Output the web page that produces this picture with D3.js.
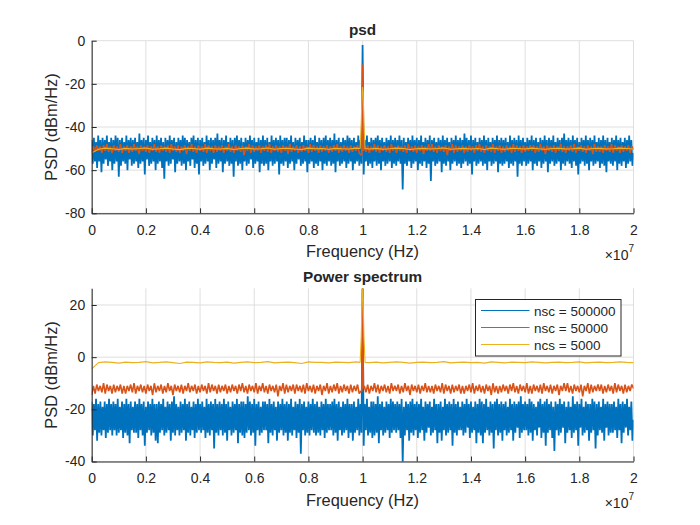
<!DOCTYPE html>
<html><head><meta charset="utf-8">
<script src="https://cdn.jsdelivr.net/npm/d3@7"></script>
<style>
body{margin:0;background:#fff;}
text{font-family:"Liberation Sans",Arial,Helvetica,sans-serif;fill:#262626;}
</style>
</head><body>
<svg id="chart" width="700" height="525"></svg>
<script>
// ---------- data ----------
const freqMaxHz = 2e7;
const xTickValues = [0, 2e6, 4e6, 6e6, 8e6, 1e7, 1.2e7, 1.4e7, 1.6e7, 1.8e7, 2e7];
const xTickLabels = ["0", "0.2", "0.4", "0.6", "0.8", "1", "1.2", "1.4", "1.6", "1.8", "2"];
const psdYTicks = [0, -20, -40, -60, -80];
const psYTicks = [20, 0, -20, -40];
const psdYLimits = [-80, 0];
const psYLimits = [-40, 26.4];
const legendLabels = ["nsc = 500000", "nsc = 50000", "ncs = 5000"];
const seriesColors = ["#0072BD", "#D95319", "#EDB120"];
const titles = ["psd", "Power spectrum"];

// PSD (top) – nsc = 500000
const psdBlue = [
-46,-57,-45,-56,-47,-59,-44,-56,-46,-61,-45,-57,-46,-55,-44,-58,-47,-56,-45,-60,
-46,-57,-44,-56,-45,-63,-46,-58,-45,-56,-47,-57,-44,-60,-46,-55,-45,-58,-46,-57,
-45,-56,-47,-59,-43,-57,-46,-56,-45,-62,-46,-55,-44,-58,-47,-57,-45,-56,-46,-60,
-44,-57,-46,-56,-45,-59,-47,-64,-45,-56,-46,-58,-44,-57,-46,-55,-45,-61,-47,-57,
-45,-56,-46,-58,-44,-57,-45,-60,-46,-56,-47,-58,-45,-55,-44,-59,-46,-57,-45,-62,
-46,-56,-45,-58,-47,-57,-44,-56,-46,-60,-45,-57,-46,-55,-45,-59,-43,-57,-46,-56,
-45,-61,-46,-57,-44,-56,-47,-58,-45,-57,-46,-63,-45,-56,-44,-58,-46,-57,-45,-60,
-47,-56,-45,-58,-46,-57,-44,-55,-46,-59,-45,-57,-47,-56,-45,-61,-46,-57,-44,-58,
-46,-57,-45,-60,-47,-56,-44,-58,-46,-57,-45,-56,-46,-62,-44,-57,-46,-58,-45,-56,
-45,-59,-46,-57,-44,-56,-47,-60,-45,-57,-46,-55,-45,-58,-47,-57,-44,-56,-46,-61,
-46,-57,-45,-56,-46,-59,-44,-57,-47,-58,-45,-56,-46,-60,-45,-57,-44,-58,-46,-56,
-45,-58,-46,-57,-43,-61,-46,-56,-45,-58,-47,-57,-45,-56,-46,-59,-44,-57,-45,-56,
-46,-60,-45,-57,-47,-56,-44,-58,-46,-57,-45,-62,-46,-56,-44,-58,-47,-57,-45,-59,
-46,-56,-45,-58,-44,-57,-46,-60,-45,-56,-47,-58,-45,-57,-46,-56,-44,-59,-46,-57,
-45,-58,-46,-56,-44,-57,-46,-69,-45,-57,-47,-58,-45,-56,-46,-59,-44,-57,-46,-56,
-45,-60,-46,-57,-44,-58,-47,-56,-45,-59,-46,-57,-44,-65,-46,-56,-45,-58,-47,-57,
-45,-56,-46,-61,-44,-57,-46,-58,-45,-56,-47,-60,-45,-57,-46,-56,-44,-58,-46,-57,
-45,-59,-46,-57,-43,-56,-45,-58,-46,-57,-44,-62,-46,-56,-45,-58,-47,-57,-45,-56,
-46,-58,-44,-57,-46,-60,-45,-56,-47,-58,-45,-57,-46,-56,-44,-61,-46,-57,-45,-58,
-46,-57,-45,-56,-47,-59,-44,-57,-46,-58,-45,-56,-46,-63,-44,-57,-46,-58,-45,-56,
-47,-58,-45,-57,-46,-56,-44,-60,-46,-57,-45,-58,-47,-56,-45,-59,-46,-57,-44,-56,
-46,-61,-45,-57,-46,-56,-44,-58,-47,-57,-45,-56,-46,-60,-45,-57,-43,-58,-46,-56,
-45,-57,-46,-59,-44,-56,-46,-58,-45,-62,-47,-57,-45,-56,-46,-58,-44,-57,-46,-60,
-45,-56,-46,-58,-44,-57,-47,-56,-45,-59,-46,-57,-44,-58,-46,-61,-45,-56,-47,-57,
-45,-58,-46,-56,-44,-60,-46,-57,-45,-58,-47,-56,-45,-59,-46,-57,-44,-56,-46,-58,
-52];
const psdBluePeakFreq = [1e7];
const psdBluePeak = [-2];

// PSD (top) – nsc = 50000
const psdOrange = [
-52,-49,-51.5,-48.5,-51,-49,-52,-48.5,-51,-48,-51.5,-49,-52,-48.5,-51,-49,-51.5,-48,-52,-49,
-51,-48.5,-52,-49,-51.5,-48,-51,-49,-52.5,-48.5,-51,-49,-51.5,-48.5,-52,-49,-51,-48,-51.5,-49,
-52,-48.5,-51,-49,-51.5,-48.5,-52,-48,-51,-49,-51.5,-48.5,-52,-49,-51,-48.5,-52.5,-49,-51,-48,
-51.5,-49,-52,-48.5,-51,-49,-51.5,-48,-52,-48.5,-51,-49,-52,-48.5,-51.5,-49,-51,-48.5,-52,-49,
-51,-48,-51.5,-49,-52,-48.5,-51,-49,-51.5,-48.5,-53,-49,-51,-48,-52,-48.5,-51.5,-49,-51,-48.5,
-52,-49,-51,-48.5,-51.5,-48,-52,-49,-51,-48.5,-51.5,-49,-52,-48.5,-51,-49,-52.5,-48,-51.5,-49,
-51,-48.5,-52,-49,-51.5,-48.5,-51,-49,-52,-48,-51.5,-48.5,-51,-49,-52,-48.5,-51.5,-49,-51,-48.5,
-52,-49,-51.5,-48.5,-51,-48,-52,-49,-51.5,-48.5,-51,-49,-52,-48.5,-51.5,-49,-51,-48.5,-52,-53,
-50,-49,-51.5,-48.5,-52,-49,-51,-48,-51.5,-48.5,-52,-49,-51,-48.5,-51.5,-49,-52,-48,-51,-49,
-52,-48.5,-51,-49,-51.5,-48.5,-52,-48,-51,-49,-51.5,-48.5,-52,-49,-51,-48.5,-52.5,-49,-51,-48,
-51,-48,-51.5,-49,-52,-48.5,-51,-49,-51.5,-48.5,-53,-49,-51,-48,-52,-48.5,-51.5,-49,-51,-48.5,
-52,-49,-51.5,-48.5,-51,-49,-52,-48.5,-51,-48,-51.5,-49,-52,-48.5,-51,-49,-51.5,-48,-52,-49,
-51,-48.5,-52,-49,-51.5,-48.5,-51,-49,-52,-48,-51.5,-48.5,-51,-49,-52,-48.5,-51.5,-49,-51,-48.5,
-51,-48.5,-52,-49,-51.5,-48,-51,-49,-52.5,-48.5,-51,-49,-51.5,-48.5,-52,-49,-51,-48,-51.5,-49,
-52,-49,-51,-48.5,-51.5,-48,-52,-49,-51,-48.5,-51.5,-49,-52,-48.5,-51,-49,-52.5,-48,-51.5,-49,
-51.5,-49,-52,-48.5,-51,-49,-51.5,-48,-52,-48.5,-51,-49,-52,-48.5,-51.5,-49,-51,-48.5,-52,-49,
-50.5];
const psdOrangePeakFreq = [9.97e6, 1e7, 1.003e7];
const psdOrangePeak = [-53, -11, -51];

// PSD (top) – ncs = 5000
const psdYellow = [
-52,-50.3,-49.8,-50.1,-50.4,-49.9,-50.2,-50,-49.7,-50.3,-50.1,-49.8,-50.2,-50.5,-49.9,-50,-50.3,-49.8,-50.1,-50.2,
-49.9,-50.4,-50,-49.8,-50.2,-50.1,-49.7,-50.3,-50,-49.9,-50.2,-50.4,-49.8,-50.1,-50,-50.3,-49.9,-50.1,-50.2,-49.8,
-50,-50.2,-49.9,-50.3,-50.1,-49.8,-50,-50.4,-50.1,-49.9,-50.2,-50,-49.7,-50.3,-50.1,-49.9,-50.2,-50,-50.4,-49.8,
-50.1,-50.3,-49.9,-50,-50.2,-49.8,-50.1,-50.3,-50,-49.9,-50.2,-50.1,-49.8,-50.3,-50,-49.9,-50.2,-50.1,-49.8,-50,
-50.2];
const psdYellowPeakFreq = [9.91e6, 9.95e6, 9.98e6, 1e7, 1.002e7, 1.005e7, 1.009e7];
const psdYellowPeak = [-50, -38, -24, -21.5, -24, -38, -50];

// Power spectrum (bottom) – nsc = 500000
const psBlue = [
-17,-30,-18,-28,-16,-32,-18,-29,-17,-30,-19,-28,-17,-31,-18,-29,-16,-28,-18,-30,
-17,-28,-18,-30,-16,-29,-19,-28,-17,-31,-18,-29,-16,-30,-18,-33,-17,-28,-19,-29,
-17,-29,-18,-31,-16,-28,-18,-30,-17,-34,-19,-29,-17,-28,-18,-30,-16,-29,-18,-32,
-18,-33,-17,-29,-18,-28,-16,-30,-19,-29,-17,-28,-18,-32,-17,-29,-15,-30,-18,-28,
-19,-30,-17,-29,-18,-28,-16,-32,-18,-29,-17,-30,-19,-28,-17,-31,-18,-29,-16,-28,
-18,-29,-17,-28,-19,-31,-16,-29,-18,-30,-17,-28,-18,-35,-16,-29,-18,-30,-17,-28,
-18,-30,-16,-29,-18,-32,-17,-28,-19,-30,-17,-29,-18,-28,-16,-33,-18,-29,-17,-30,
-17,-31,-18,-29,-15,-28,-17,-30,-18,-29,-16,-34,-18,-28,-17,-30,-19,-29,-17,-28,
-17,-28,-18,-33,-16,-29,-18,-30,-17,-28,-19,-32,-17,-29,-18,-28,-16,-30,-18,-29,
-17,-32,-18,-29,-16,-30,-19,-28,-17,-31,-18,-29,-16,-37,-18,-28,-17,-30,-19,-29,
-17,-30,-18,-28,-16,-29,-18,-30,-17,-29,-19,-30,-17,-28,-18,-31,-16,-29,-18,-28,
-18,-28,-17,-30,-16,-29,-18,-32,-17,-28,-19,-30,-17,-29,-18,-28,-16,-31,-18,-29,
-18,-32,-17,-29,-19,-28,-16,-30,-18,-29,-17,-34,-18,-28,-16,-30,-19,-29,-17,-31,
-17,-30,-18,-29,-15,-33,-18,-28,-17,-30,-19,-29,-17,-28,-18,-31,-16,-29,-17,-28,
-18,-29,-17,-28,-18,-31,-16,-40.6,-19,-30,-17,-28,-18,-32,-17,-29,-16,-30,-18,-28,
-17,-31,-18,-29,-16,-28,-19,-32,-17,-29,-18,-27,-17,-30,-19,-29,-16,-28,-18,-33,
-18,-29,-17,-32,-19,-28,-16,-30,-18,-29,-17,-28,-18,-34,-16,-29,-18,-30,-17,-28,
-19,-28,-17,-30,-18,-29,-16,-27,-18,-31,-17,-29,-19,-28,-17,-33,-18,-29,-16,-30,
-17,-33,-18,-29,-16,-28,-19,-30,-17,-29,-18,-35,-17,-28,-16,-30,-18,-29,-17,-32,
-18,-28,-17,-30,-19,-29,-16,-28,-18,-32,-17,-29,-18,-27,-17,-31,-15,-29,-18,-28,
-17,-28,-18,-30,-16,-29,-17,-32,-18,-28,-19,-30,-17,-27,-16,-31,-18,-29,-17,-34,
-16,-29,-18,-28,-17,-31,-19,-36,-17,-28,-18,-30,-16,-29,-18,-27,-17,-33,-19,-29,
-17,-28,-19,-31,-15,-29,-18,-28,-17,-34,-18,-27,-16,-30,-19,-29,-17,-28,-18,-32,
-18,-29,-16,-28,-17,-35,-18,-30,-17,-28,-19,-29,-16,-32,-18,-27,-17,-30,-18,-29,
-18,-29,-17,-28,-19,-31,-16,-28,-18,-33,-17,-29,-18,-27,-16,-30,-19,-28,-17,-32,
-24];
const psBluePeakFreq = [1e7];
const psBluePeak = [26.4];

// Power spectrum (bottom) – nsc = 50000
const psOrange = [
-14.5,-11,-14,-10.5,-13,-11,-13.5,-10,-14,-10.5,-13,-11,-14,-10.5,-13.5,-11,-13,-10.5,-14,-11,
-14,-11,-13,-10.5,-13.5,-10,-14,-11,-13,-10.5,-13.5,-11,-14,-10.5,-13,-11,-14.5,-10,-13.5,-11,
-13,-10.5,-14,-11,-13.5,-10,-13,-11,-14.5,-10.5,-13,-11,-13.5,-10.5,-14,-11,-13,-10,-13.5,-11,
-13,-10.5,-14,-11,-13.5,-10.5,-13,-11,-14,-10,-13.5,-10.5,-13,-11,-14,-10.5,-13.5,-11,-13,-10.5,
-14,-11,-13.5,-10.5,-13,-11,-14,-10.5,-13,-10,-13.5,-11,-14,-10.5,-13,-11,-13.5,-10,-14,-11,
-13,-10,-13.5,-11,-14,-10.5,-13,-11,-13.5,-10.5,-15,-11,-13,-10,-14,-10.5,-13.5,-11,-13,-10.5,
-14,-10.5,-13,-11,-13.5,-10.5,-14,-10,-13,-11,-13.5,-10.5,-14,-11,-13,-10.5,-14.5,-11,-13,-10,
-14,-11,-13.5,-10.5,-13,-10,-14,-11,-13.5,-10.5,-13,-11,-14,-10.5,-13.5,-11,-13,-10.5,-14,-13,
-12,-11,-13.5,-10.5,-14,-11,-13,-10,-13.5,-10.5,-14,-11,-13,-10.5,-13.5,-11,-14,-10,-13,-11,
-13,-10.5,-14,-11,-13.5,-10,-13,-11,-14.5,-10.5,-13,-11,-13.5,-10.5,-14,-11,-13,-10,-13.5,-11,
-13.5,-11,-14,-10.5,-13,-11,-13.5,-10,-14,-10.5,-13,-11,-14,-10.5,-13.5,-11,-13,-10.5,-14,-11,
-14,-11,-13,-10.5,-13.5,-10,-14,-11,-13,-10.5,-13.5,-11,-14,-10.5,-13,-11,-14.5,-10,-13.5,-11,
-14,-11,-13.5,-10.5,-13,-11,-14,-10.5,-13,-10,-13.5,-11,-14,-10.5,-13,-11,-13.5,-10,-14,-11,
-14,-10.5,-13,-11,-13.5,-10.5,-14,-10,-13,-11,-13.5,-10.5,-14,-11,-13,-10.5,-14.5,-11,-13,-10,
-13,-10,-13.5,-11,-14,-10.5,-13,-11,-13.5,-10.5,-15,-11,-13,-10,-14,-10.5,-13.5,-11,-13,-10.5,
-13,-10.5,-14,-11,-13.5,-10.5,-13,-11,-14,-10,-13.5,-10.5,-13,-11,-14,-10.5,-13.5,-11,-13,-10.5,
-12];
const psOrangePeakFreq = [9.97e6, 1e7, 1.003e7];
const psOrangePeak = [-13, 26.3, -12];

// Power spectrum (bottom) – ncs = 5000
const psYellow = [
-4.5,-2.1,-1.8,-2,-2.3,-1.9,-2.1,-2,-1.7,-2.2,-2,-1.8,-2.1,-2.4,-1.9,-2,-2.2,-1.8,-2,-2.1,
-1.9,-2.3,-2,-1.8,-2.1,-2,-1.7,-2.2,-2,-1.9,-2.1,-2.4,-1.8,-2,-2,-2.2,-1.9,-2,-2.1,-1.8,
-2,-2.1,-1.9,-2.2,-2,-1.8,-2,-2.3,-2,-1.9,-2.1,-2,-1.7,-2.2,-2,-1.9,-2.1,-2,-2.3,-1.8,
-2,-2.2,-1.9,-2,-2.1,-1.8,-2,-2.2,-2,-1.9,-2.1,-2,-1.8,-2.2,-2,-1.9,-2.1,-2,-1.8,-2,
-2.1];
const psYellowPeakFreq = [9.91e6, 9.95e6, 9.98e6, 1e7, 1.002e7, 1.005e7, 1.009e7];
const psYellowPeak = [-2, 8, 22, 26.4, 22, 8, -2];

// ---------- helpers ----------
function buildSeries(noise, peakFreq, peakVals) {
  const step = freqMaxHz / (noise.length - 1);
  const lo = d3.min(peakFreq) - step * 0.5, hi = d3.max(peakFreq) + step * 0.5;
  const pts = noise.map((v, i) => [i * step, v]).filter(p => p[0] < lo || p[0] > hi);
  peakFreq.forEach((f, i) => pts.push([f, peakVals[i]]));
  pts.sort((a, b) => a[0] - b[0]);
  return pts;
}

const svg = d3.select("#chart");
svg.append("rect").attr("width", 700).attr("height", 525).attr("fill", "#fff");

const panels = [
  { box: { x0: 91.7, x1: 633.5, y0: 40.7, y1: 213.3 }, ylim: psdYLimits, yticks: psdYTicks, title: titles[0],
    series: [buildSeries(psdBlue, psdBluePeakFreq, psdBluePeak),
             buildSeries(psdOrange, psdOrangePeakFreq, psdOrangePeak),
             buildSeries(psdYellow, psdYellowPeakFreq, psdYellowPeak)] },
  { box: { x0: 91.7, x1: 633.5, y0: 288.3, y1: 461.5 }, ylim: psYLimits, yticks: psYTicks, title: titles[1],
    series: [buildSeries(psBlue, psBluePeakFreq, psBluePeak),
             buildSeries(psOrange, psOrangePeakFreq, psOrangePeak),
             buildSeries(psYellow, psYellowPeakFreq, psYellowPeak)], legend: true }
];

const strokeW = [1.8, 1.6, 1.1];

panels.forEach((p, pi) => {
  const b = p.box;
  const x = d3.scaleLinear().domain([0, freqMaxHz]).range([b.x0, b.x1]);
  const y = d3.scaleLinear().domain(p.ylim).range([b.y1, b.y0]);
  const g = svg.append("g");

  // grid
  g.append("g").selectAll("line").data(xTickValues).join("line")
    .attr("x1", d => x(d)).attr("x2", d => x(d)).attr("y1", b.y0).attr("y2", b.y1)
    .attr("stroke", "#dfdfdf").attr("stroke-width", 1);
  g.append("g").selectAll("line").data(p.yticks.filter(t => t >= p.ylim[0] && t <= p.ylim[1])).join("line")
    .attr("x1", b.x0).attr("x2", b.x1).attr("y1", d => y(d)).attr("y2", d => y(d))
    .attr("stroke", "#dfdfdf").attr("stroke-width", 1);

  // clip
  const cid = "clip" + pi;
  svg.append("clipPath").attr("id", cid).append("rect")
    .attr("x", b.x0).attr("y", b.y0).attr("width", b.x1 - b.x0).attr("height", b.y1 - b.y0);
  const line = d3.line().x(d => x(d[0])).y(d => y(d[1]));
  const lg = g.append("g").attr("clip-path", `url(#${cid})`);
  p.series.forEach((s, si) => {
    lg.append("path").attr("d", line(s)).attr("fill", "none")
      .attr("stroke", seriesColors[si]).attr("stroke-width", strokeW[si])
      .attr("stroke-linejoin", "bevel");
  });

  // axes
  const xAxis = d3.axisBottom(x).tickValues(xTickValues).tickFormat((d, i) => xTickLabels[i])
    .tickSizeInner(-5).tickSizeOuter(0).tickPadding(11.5);
  const ax = g.append("g").attr("transform", `translate(0,${b.y1})`).call(xAxis);
  const yAxis = d3.axisLeft(y).tickValues(p.yticks).tickFormat(d => String(d))
    .tickSizeInner(-5).tickSizeOuter(0).tickPadding(6.5);
  const ay = g.append("g").attr("transform", `translate(${b.x0},0)`).call(yAxis);
  [ax, ay].forEach(a => {
    a.select(".domain").attr("stroke", "#262626").attr("stroke-width", 1);
    a.selectAll(".tick line").attr("stroke", "#262626").attr("stroke-width", 1);
    a.selectAll(".tick text").attr("fill", "#262626").style("font-size", "14px")
      .style("font-family", '"Liberation Sans", Arial, sans-serif');
  });

  // title
  g.append("text").attr("x", (b.x0 + b.x1) / 2).attr("y", b.y0 - 6)
    .attr("text-anchor", "middle").style("font-size", "15.3px").style("font-weight", "bold")
    .attr("fill", "#000").text(p.title);
  // x label
  g.append("text").attr("x", (b.x0 + b.x1) / 2).attr("y", b.y1 + 44)
    .attr("text-anchor", "middle").style("font-size", "16.4px").text("Frequency (Hz)");
  // y label
  g.append("text").attr("transform", `translate(56.7,${(b.y0 + b.y1) / 2}) rotate(-90)`)
    .attr("text-anchor", "middle").style("font-size", "16.4px").text("PSD (dBm/Hz)");
  // exponent
  const ex = g.append("text").attr("x", b.x1 + 0.5).attr("y", b.y1 + 46.5)
    .attr("text-anchor", "end").style("font-size", "14px");
  ex.append("tspan").text("\u00d710");
  ex.append("tspan").attr("dy", -8).style("font-size", "10px").text("7");

  // legend
  if (p.legend) {
    const L = { x0: 475.5, y0: 299.5, w: 145.5, h: 56.5 };
    const lgd = g.append("g");
    lgd.append("rect").attr("x", L.x0).attr("y", L.y0).attr("width", L.w).attr("height", L.h)
      .attr("fill", "#fff").attr("stroke", "#262626").attr("stroke-width", 1);
    const rows = [310.5, 327.5, 344.5];
    legendLabels.forEach((t, i) => {
      lgd.append("line").attr("x1", 481).attr("x2", 529.5).attr("y1", rows[i]).attr("y2", rows[i])
        .attr("stroke", seriesColors[i]).attr("stroke-width", 1);
      lgd.append("text").attr("x", 534).attr("y", rows[i] + 5).style("font-size", "13.5px").text(t);
    });
  }
});
</script>
</body></html>
